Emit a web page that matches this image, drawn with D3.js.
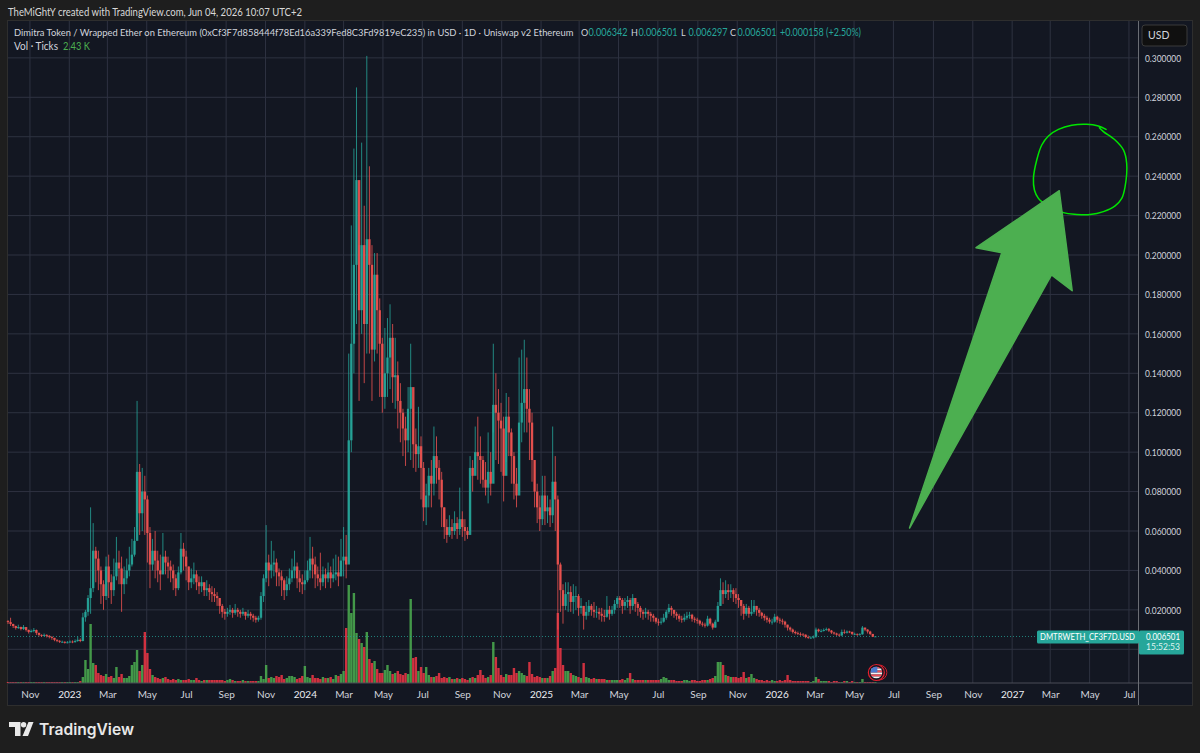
<!DOCTYPE html>
<html>
<head>
<meta charset="utf-8">
<script src="https://cdn.jsdelivr.net/npm/d3@7"></script>
<style>
  html, body { margin: 0; background: #1e1e1e; }
  svg { display: block; font-family: Lato, "Open Sans", sans-serif; }
</style>
</head>
<body>
<div id="chart"></div>
<script>
// Candles in 4 day steps, prices in thousandths of a dollar.
// Open of a candle is the close before it, except the first.
const firstDay = "2022-09-28";
const stepDays = 4;

const closes = [
  13.8,12.8,11.8,10.8,11.3,10.3,11.3,9.8,8.8,9.3,
  9.8,8.3,7.3,6.8,7.3,6.8,6.3,5.8,4.8,4.3,
  3.8,3.8,3.3,3.5,3.9,3.6,4.2,4.8,4.2,16.2,
  19,26,31,50,46,40,33,27,42,34,
  30,37,44,41,33,36,40,43,48,55,
  90,69,80,76,59,43,50,45,40,38,
  47,44,42,40,36,31,39,51,47,42,
  34,36,38,34,32,34,30,31,29,28,
  27,26,22,19,18,19,20,18.5,20,19,
  18,19,17,18,17,16,15,16,27,36,
  44,40,43,44,39,37,35,30,33,36,
  40,42,36,34,33,35,40,46,43,38,
  36,34,38,36,39,36,38,39,37,45,
  47,43,106,155,195,238,172,205,165,208,
  195,152,190,172,155,128,140,148,158,138,
  139,126,120,112,106,122,133,104,99,103,
  92,72,78,88,84,98,92,86,72,62,
  58,62,60,64,61,66,62,60,58,92,
  88,100,98,96,86,82,90,84,124,120,
  116,
  112,88,118,110,98,84,78,115,125,132,
  122,115,96,80,72,66,78,70,72,68,
  85,76,43,30,22,28,29,24,27,27,
  21,22,17,19,22,20,19,19,18,17,
  16.5,20,18,20,23,26,25,22,24,25,
  22,26,23,21,19,18,19,18,17,16,
  14,13.5,14,16,19,21,20,18,17,15.5,
  15,16,17,17.5,15.5,15,14.5,13,12.5,12,
  15.5,13,11,14,22,30,28,30,29,30,
  28,
  26,25,22,18,21,18,19,22,20,18.5,
  17,16,15,14,14,16.5,15,14.5,14,12.5,
  11,10,8.8,8.2,7.8,7.5,7.4,6.2,5.9,5.9,
  6.4,10,9.2,9.3,9.8,10.2,9.5,8.5,8,7.4,
  7,8.8,8.4,9,8.8,7.8,7.8,7.4,7.6,11,
  10,9,7.8,6.342,6.501
];

const highs = [
  14.8,16,13,12,12.5,11.5,12.3,11,10,10,
  10.8,10,8.5,7.6,8,7.6,7.2,6.6,5.8,5,
  4.6,4.4,4,4.2,4.5,4.5,5,6.5,5.5,18.5,
  20,27.5,72,64,52,50,42,35,47,48,
  38,46,57,50,47,42,46,52,56,62,
  126,94,92,88,78,62,56,60,50,48,
  59,50,47,45,43,38,42,59,54,50,
  42,41,44,40,37,37,34,35,33,32,
  31,29,26,23,20.5,21,22.5,21,23,21,
  20,21,19,20,19,18,17,17,29,38,
  63,48,55,50,46,41,40,36,37,41,
  46,50,44,40,38,40,45,57,52,47,
  42,49,42,41,44,42,46,48,47,56,
  62,58,150,215,254,285,205,257,225,301,
  245,205,201,201,178,158,163,168,175,165,
  158,146,135,122,118,133,155,122,112,123,
  108,95,84,92,96,113,108,96,90,72,
  66,68,66,70,67,82,70,66,62,98,
  96,113,118,108,98,95,110,100,155,140,
  132,
  125,118,130,128,112,100,92,148,152,157,
  148,132,120,96,84,78,88,88,78,76,
  113,98,78,44,33,34,34,32,33,32,
  28,26,22,24,25,23,24,22,21,21,
  20,27,22,22,25,27,27,26,26,27,
  26,28,26,24,22,20,21,20,19,18,
  16,15.5,16,18,20,23,22,20,19,18,
  17,18,19,19,18,16.5,16,15,14,13.5,
  17,16,13.5,15,24,36,34,35,33,33,
  31,
  31,28,25,23,23,22,25,25,22,21,
  19,18,17,16,15.5,18,17,16,15.5,14.5,
  12.5,11.5,10.5,9.5,9,8.6,8.2,7.6,7,6.6,
  7,11,10.5,10.2,10.6,11,10.8,9.8,8.9,8.4,
  8,10,10,9.6,9.4,9,8.4,8,8.2,11.8,
  11,10.2,9.4,7.8,6.501
];

const lows = [
  12.8,11.8,10.8,10,10.3,9.6,9.8,9,8,8.5,
  8.6,7.3,6.5,6.2,6.5,6,5.5,4.8,4.1,3.6,
  3.2,3.2,2.9,3,3.2,3.1,3.4,3.8,3.6,4,
  14,17,18,29,34,30,23,20,25,26,
  23,27,35,33,19,28,33,37,42,47,
  62,58,60,58,44,31,40,36,34,30,
  38,38,36,34,30,27,30,38,40,35,
  30,31,33,30,28,29,27,27,25,24,
  24,22,18,16,15,16.5,17.5,16,17.5,16.5,
  16,17,15,16,15,14,13.5,14,15,24,
  34,32,36,37,32,32,27,25,27,30,
  34,36,31,29,28,30,34,36,36,31,
  32,30,32,31,34,31,34,35,32,37,
  37,36,44,100,140,165,126,160,135,150,
  150,126,146,150,128,120,122,128,132,125,
  122,112,105,98,93,100,96,92,90,92,
  76,65,63,72,72,78,84,76,62,56,
  54,57,56,58,56,58,57,55,56,60,
  80,92,86,84,82,78,74,78,110,96,
  94,
  90,75,95,98,84,76,72,80,105,110,
  110,96,85,72,64,60,63,63,64,62,
  64,60,10,19,13,20,19,19,18,20,
  17,18,10,15,17,17,16,16,15,14,
  14,16,15,17,18,21,21,18,20,21,
  18,20,19,17,16,15,16,15,14,14,
  13,12,12.5,13.5,15,18,17,16,15,14,
  13.5,14,15,15.5,14,13.5,13,12,11.5,11,
  11.5,12,10,11,14,22,23,26,25,26,
  24,
  23,21,17,15,17,16,17,18,17,16.5,
  15.5,14.5,13.5,13,12.5,13.5,13.5,13,12.5,11,
  9.5,9,8,7.5,7.2,6.8,6.8,5.6,5.3,5.3,
  5.4,5.8,8.6,8.6,9,9.4,8.8,7.8,7.4,6.8,
  6.5,6.6,7.8,8,8.2,7.2,7.2,6.8,7,7.4,
  9.2,8,7.2,6.2,6.297
];

// Volume in thousands of ticks
const volumes = [
  2.5,2.5,2.5,2.5,2.5,2.5,2.5,2.5,2.5,2.5,
  2.5,2.5,2.5,2.5,2.5,2.5,2.5,2.5,2.5,2.5,
  2.5,2.5,2.5,2.5,2.5,2.5,2.5,2.5,5,15,
  57.5,35,147.5,50,45,25,20,17.5,22.5,15,
  17.5,12.5,40,15,22.5,12.5,12.5,17.5,45,52.5,
  82.5,30,45,127.5,75,35,20,15,12.5,10,
  12.5,15,10,7.5,10,7.5,10,7.5,7.5,7.5,
  10,7.5,7.5,12.5,7.5,5,7.5,7.5,7.5,7.5,
  7.5,7.5,7.5,7.5,5,7.5,10,7.5,5,5,
  5,7.5,5,5,5,5,5,5,17.5,10,
  45,12.5,15,12.5,17.5,15,20,10,12.5,17.5,
  17.5,15,10,12.5,17.5,42.5,15,12.5,20,12.5,
  12.5,10,15,12.5,12.5,15,10,20,17.5,22.5,
  30,137.5,245,175,225,125,110,100,90,127.5,
  60,50,55,35,25,25,32.5,45,30,22.5,
  25,30,22.5,20,25,22.5,210,62.5,65,30,
  40,25,40,20,15,15,17.5,25,12.5,15,
  12.5,15,10,10,12.5,10,12.5,10,7.5,12.5,
  15,12.5,20,32.5,20,12.5,15,20,102.5,65,
  37.5,
  20,15,22.5,20,20,37.5,25,30,25,20,
  17.5,52.5,22.5,15,17.5,15,12.5,12.5,12.5,17.5,
  30,37.5,175,87.5,45,30,30,25,20,17.5,
  15,12.5,50,15,12.5,10,12.5,10,10,10,
  10,7.5,7.5,7.5,7.5,7.5,7.5,10,7.5,12.5,
  25,10,7.5,7.5,7.5,7.5,7.5,7.5,7.5,7.5,
  7.5,7.5,10,15,12.5,7.5,7.5,7.5,5,5,
  5,7.5,7.5,5,7.5,7.5,5,5,7.5,7.5,
  7.5,10,12.5,17.5,52.5,52.5,45,20,17.5,15,
  15,
  15,12.5,15,27.5,12.5,15,22.5,12.5,10,7.5,
  7.5,5,7.5,5,7.5,5,5,7.5,5,7.5,
  20,7.5,5,5,5,5,5,5,5,2.5,
  5,15,10,5,5,5,5,2.5,5,5,
  2.5,2.5,5,5,2.5,5,2.5,2.5,2.5,10,
  2.5,2.5,2.5,2.5,2.43
];

const lastPrice = 0.006501;
const priceTicks = [0, 0.02, 0.04, 0.06, 0.08, 0.1, 0.12, 0.14, 0.16, 0.18, 0.2, 0.22, 0.24, 0.26, 0.28, 0.3];

const titleText = "Dimitra Token / Wrapped Ether on Ethereum (0xCf3F7d858444f78Ed16a339Fed8C3Fd9819eC235) in USD · 1D · Uniswap v2 Ethereum";
const ohlcLabels = ["O", "H", "L", "C"];
const ohlcValues = ["0.006342", "0.006501", "0.006297", "0.006501"];

// The hand drawn arrow and circle, anchored like chart drawings: days after 2023-01-01 and price
const arrowDays = [1302, 1445, 1405, 1534, 1554, 1522];
const arrowPrices = [0.0615, 0.2012, 0.2037, 0.2326, 0.1819, 0.1899];
const circleDays = [1606.5, 1594.6, 1576.6, 1553.3, 1532.7, 1517.2, 1506.9, 1499.1, 1494, 1495.5, 1501.7, 1506.9,
  1540.4, 1561.1, 1581.7, 1602.4, 1620.5, 1630.8, 1636, 1638.5, 1633.4, 1620.5, 1602.4, 1596.2];
const circlePrices = [0.2637, 0.2654, 0.2663, 0.2658, 0.2637, 0.2604, 0.2558, 0.2482, 0.2389, 0.233, 0.2287, 0.2271,
  0.2215, 0.2206, 0.2205, 0.222, 0.2249, 0.2287, 0.2347, 0.2465, 0.2533, 0.2583, 0.2626, 0.2646];

const width = 1200;
const height = 753;
const plotLeft = 8;
const plotRight = 1138;
const plotTop = 21;
const plotBottom = 683;
const axisRight = 1192;
const axisBottom = 705;

const up = "#26a69a";
const down = "#ef5350";
const gridColor = "#2e3241";
const textColor = "#d1d4dc";

const day = 864e5;
const origin = Date.UTC(2023, 0, 1);
const start = new Date(firstDay + "T00:00:00Z");

const candles = closes.map((c, i) => ({
  date: new Date(+start + i * stepDays * day),
  open: i ? closes[i - 1] : c + 0.5,
  high: highs[i],
  low: lows[i],
  close: c,
  volume: volumes[i]
}));

const x = d3.scaleUtc()
  .domain([start, new Date(Date.UTC(2027, 6, 15))])
  .range([plotLeft, plotRight]);

const y = d3.scaleLinear()
  .domain([-0.0171, 0.3187])
  .range([plotBottom, plotTop]);

const yVol = d3.scaleLinear()
  .domain([0, 245])
  .range([plotBottom, 585]);

const svg = d3.select("#chart").append("svg")
  .attr("width", width)
  .attr("height", height);

// text squeezed to the width it has in the picture
function fit(sel, w) {
  return sel.attr("textLength", w).attr("lengthAdjust", "spacingAndGlyphs");
}

fit(svg.append("text")
  .attr("x", 8).attr("y", 16)
  .attr("font-size", 10.5)
  .attr("fill", "#d8d8d8")
  .text("TheMiGhtY created with TradingView.com, Jun 04, 2026 10:07 UTC+2"), 294);

svg.append("rect")
  .attr("x", plotLeft - 0.5).attr("y", plotTop - 0.5)
  .attr("width", axisRight - plotLeft + 1).attr("height", axisBottom - plotTop + 1)
  .attr("fill", "#131722")
  .attr("stroke", "#2e2e2e");

const monthTicks = x.ticks(d3.utcMonth.every(2));

// grid
svg.append("g").selectAll("line").data(monthTicks).join("line")
  .attr("x1", d => x(d)).attr("x2", d => x(d))
  .attr("y1", plotTop).attr("y2", plotBottom)
  .attr("stroke", gridColor);

svg.append("g").selectAll("line").data(priceTicks).join("line")
  .attr("x1", plotLeft).attr("x2", plotRight)
  .attr("y1", d => y(d)).attr("y2", d => y(d))
  .attr("stroke", gridColor);

// volume
svg.append("g").selectAll("rect").data(candles).join("rect")
  .attr("x", d => x(d.date) - 1.2)
  .attr("width", 2.4)
  .attr("y", d => yVol(d.volume))
  .attr("height", d => plotBottom - yVol(d.volume))
  .attr("fill", d => d.close >= d.open ? "#4caf50" : "#f23645")
  .attr("opacity", 0.85);

// last price line
svg.append("line")
  .attr("x1", plotLeft).attr("x2", plotRight)
  .attr("y1", y(lastPrice)).attr("y2", y(lastPrice))
  .attr("stroke", up)
  .attr("stroke-opacity", 0.75)
  .attr("stroke-dasharray", "1 2");

// candles
const gCandle = svg.append("g");

gCandle.selectAll("line").data(candles).join("line")
  .attr("x1", d => x(d.date)).attr("x2", d => x(d.date))
  .attr("y1", d => y(d.high / 1000)).attr("y2", d => y(d.low / 1000))
  .attr("stroke", d => d.close >= d.open ? up : down)
  .attr("stroke-width", 0.8);

gCandle.selectAll("rect").data(candles).join("rect")
  .attr("x", d => x(d.date) - 1.2)
  .attr("width", 2.4)
  .attr("y", d => y(Math.max(d.open, d.close) / 1000))
  .attr("height", d => Math.max(0.8, Math.abs(y(d.open / 1000) - y(d.close / 1000))))
  .attr("fill", d => d.close >= d.open ? up : down)
  .attr("opacity", 0.9);

// drawings
const dayX = d => x(new Date(origin + d * day));

svg.append("path")
  .attr("d", d3.line().x(d => dayX(d[0])).y(d => y(d[1])).curve(d3.curveCatmullRom)(d3.zip(circleDays, circlePrices)))
  .attr("fill", "none")
  .attr("stroke", "#00e600")
  .attr("stroke-width", 1.5)
  .attr("stroke-linecap", "round");

svg.append("path")
  .attr("d", d3.line().x(d => dayX(d[0])).y(d => y(d[1])).curve(d3.curveLinearClosed)(d3.zip(arrowDays, arrowPrices)))
  .attr("fill", "#4caf50")
  .attr("stroke", "#4caf50")
  .attr("stroke-width", 1.5)
  .attr("stroke-linejoin", "round");

// flag marker by the last candle
const flagX = x(candles[candles.length - 1].date) + 1;
const flagY = 672.5;
const flag = svg.append("g").attr("transform", `translate(${flagX},${flagY})`);
const clip = svg.append("clipPath").attr("id", "flagClip");
clip.append("circle").attr("r", 6);
flag.append("circle").attr("cx", 3).attr("r", 7.5).attr("fill", "none").attr("stroke", "#d3202d").attr("stroke-width", 1);
flag.append("circle").attr("r", 8).attr("fill", "#131722").attr("stroke", "#e5202e").attr("stroke-width", 1.2);
const flagG = flag.append("g").attr("clip-path", "url(#flagClip)");
flagG.selectAll("rect.stripe").data(d3.range(6)).join("rect")
  .attr("class", "stripe")
  .attr("x", -6).attr("width", 12)
  .attr("y", d => -6 + d * 2).attr("height", 2)
  .attr("fill", d => d % 2 ? "#f4f4f4" : "#ef4d5a");
flagG.append("rect").attr("x", -6).attr("y", -6).attr("width", 7).attr("height", 6).attr("fill", "#4a7bd0");

// legend
svg.append("text")
  .attr("x", 14).attr("y", 36)
  .attr("font-size", 9.35)
  .attr("fill", textColor)
  .text(titleText);

const ohlcX = [581, 631, 681, 730];
ohlcLabels.forEach((label, i) => {
  svg.append("text")
    .attr("x", ohlcX[i]).attr("y", 36)
    .attr("font-size", 9)
    .attr("fill", textColor)
    .text(label);
  fit(svg.append("text")
    .attr("x", ohlcX[i] + 7.5).attr("y", 36)
    .attr("font-size", 10.5)
    .attr("fill", up)
    .text(ohlcValues[i]), 39);
});
fit(svg.append("text")
  .attr("x", 780).attr("y", 36)
  .attr("font-size", 10.5)
  .attr("fill", up)
  .text("+0.000158 (+2.50%)"), 81);

fit(svg.append("text")
  .attr("x", 14).attr("y", 50)
  .attr("font-size", 10.5)
  .attr("fill", textColor)
  .text("Vol · Ticks"), 44);
fit(svg.append("text")
  .attr("x", 63).attr("y", 50)
  .attr("font-size", 10.5)
  .attr("fill", "#4caf50")
  .text("2.43 K"), 27);

// axes
const timeAxis = svg.append("g")
  .attr("transform", `translate(0,${plotBottom})`)
  .call(d3.axisBottom(x)
    .tickValues(monthTicks)
    .tickSize(0)
    .tickPadding(8)
    .tickFormat(d => d.getUTCMonth() === 0 ? d3.utcFormat("%Y")(d) : d3.utcFormat("%b")(d)));
timeAxis.select(".domain").remove();
timeAxis.selectAll("text")
  .attr("font-size", 10)
  .attr("font-family", "Lato, sans-serif")
  .attr("fill", d => d.getUTCMonth() === 0 ? "#eceef3" : textColor);

const priceAxis = svg.append("g")
  .attr("transform", `translate(${plotRight},0)`)
  .call(d3.axisRight(y)
    .tickValues(priceTicks.slice(1))
    .tickSize(0)
    .tickPadding(7)
    .tickFormat(d3.format(".6f")));
priceAxis.select(".domain").remove();
priceAxis.selectAll("text")
  .attr("font-size", 10)
  .attr("font-family", "Lato, sans-serif")
  .attr("fill", textColor)
  .attr("textLength", 36)
  .attr("lengthAdjust", "spacingAndGlyphs");

svg.append("line")
  .attr("x1", plotLeft).attr("x2", axisRight)
  .attr("y1", plotBottom).attr("y2", plotBottom)
  .attr("stroke", "#4a4d57");
svg.append("line")
  .attr("x1", plotRight + 0.5).attr("x2", plotRight + 0.5)
  .attr("y1", plotTop).attr("y2", axisBottom)
  .attr("stroke", "#6a6d74");

// USD button
svg.append("rect")
  .attr("x", 1142).attr("y", 25)
  .attr("width", 45).attr("height", 21)
  .attr("rx", 3)
  .attr("fill", "#101010")
  .attr("stroke", "#3a3a3a");
svg.append("text")
  .attr("x", 1148).attr("y", 39)
  .attr("font-size", 10.5)
  .attr("fill", textColor)
  .text("USD");

// last price labels
const priceY = y(lastPrice);
svg.append("rect")
  .attr("x", 1037).attr("y", priceY - 6)
  .attr("width", 102).attr("height", 13)
  .attr("rx", 1.5)
  .attr("fill", up);
fit(svg.append("text")
  .attr("x", 1040).attr("y", priceY + 4)
  .attr("font-size", 10)
  .attr("fill", "#fff")
  .text("DMTRWETH_CF3F7D.USD"), 95);
svg.append("rect")
  .attr("x", 1139).attr("y", priceY - 6)
  .attr("width", 45).attr("height", 24)
  .attr("rx", 1.5)
  .attr("fill", up);
fit(svg.append("text")
  .attr("x", 1146).attr("y", priceY + 4)
  .attr("font-size", 10)
  .attr("fill", "#fff")
  .text(d3.format(".6f")(lastPrice)), 34);
fit(svg.append("text")
  .attr("x", 1146).attr("y", priceY + 14)
  .attr("font-size", 10)
  .attr("fill", "#dff3f1")
  .text("15:52:53"), 34);

// brand
const logo = svg.append("g")
  .attr("transform", "translate(9,722)")
  .attr("fill", "#e8e8e8");
logo.append("path").attr("d", "M0 0H11.5V14H6V5H0Z");
logo.append("circle").attr("cx", 14.6).attr("cy", 2.7).attr("r", 2.7);
logo.append("path").attr("d", "M19.5 0H24.5L19 14H13.5Z");
fit(svg.append("text")
  .attr("x", 39).attr("y", 735)
  .attr("font-size", 16)
  .attr("font-weight", 600)
  .attr("font-family", "Inter, sans-serif")
  .attr("fill", "#e8e8e8")
  .text("TradingView"), 95);
</script>
</body>
</html>
